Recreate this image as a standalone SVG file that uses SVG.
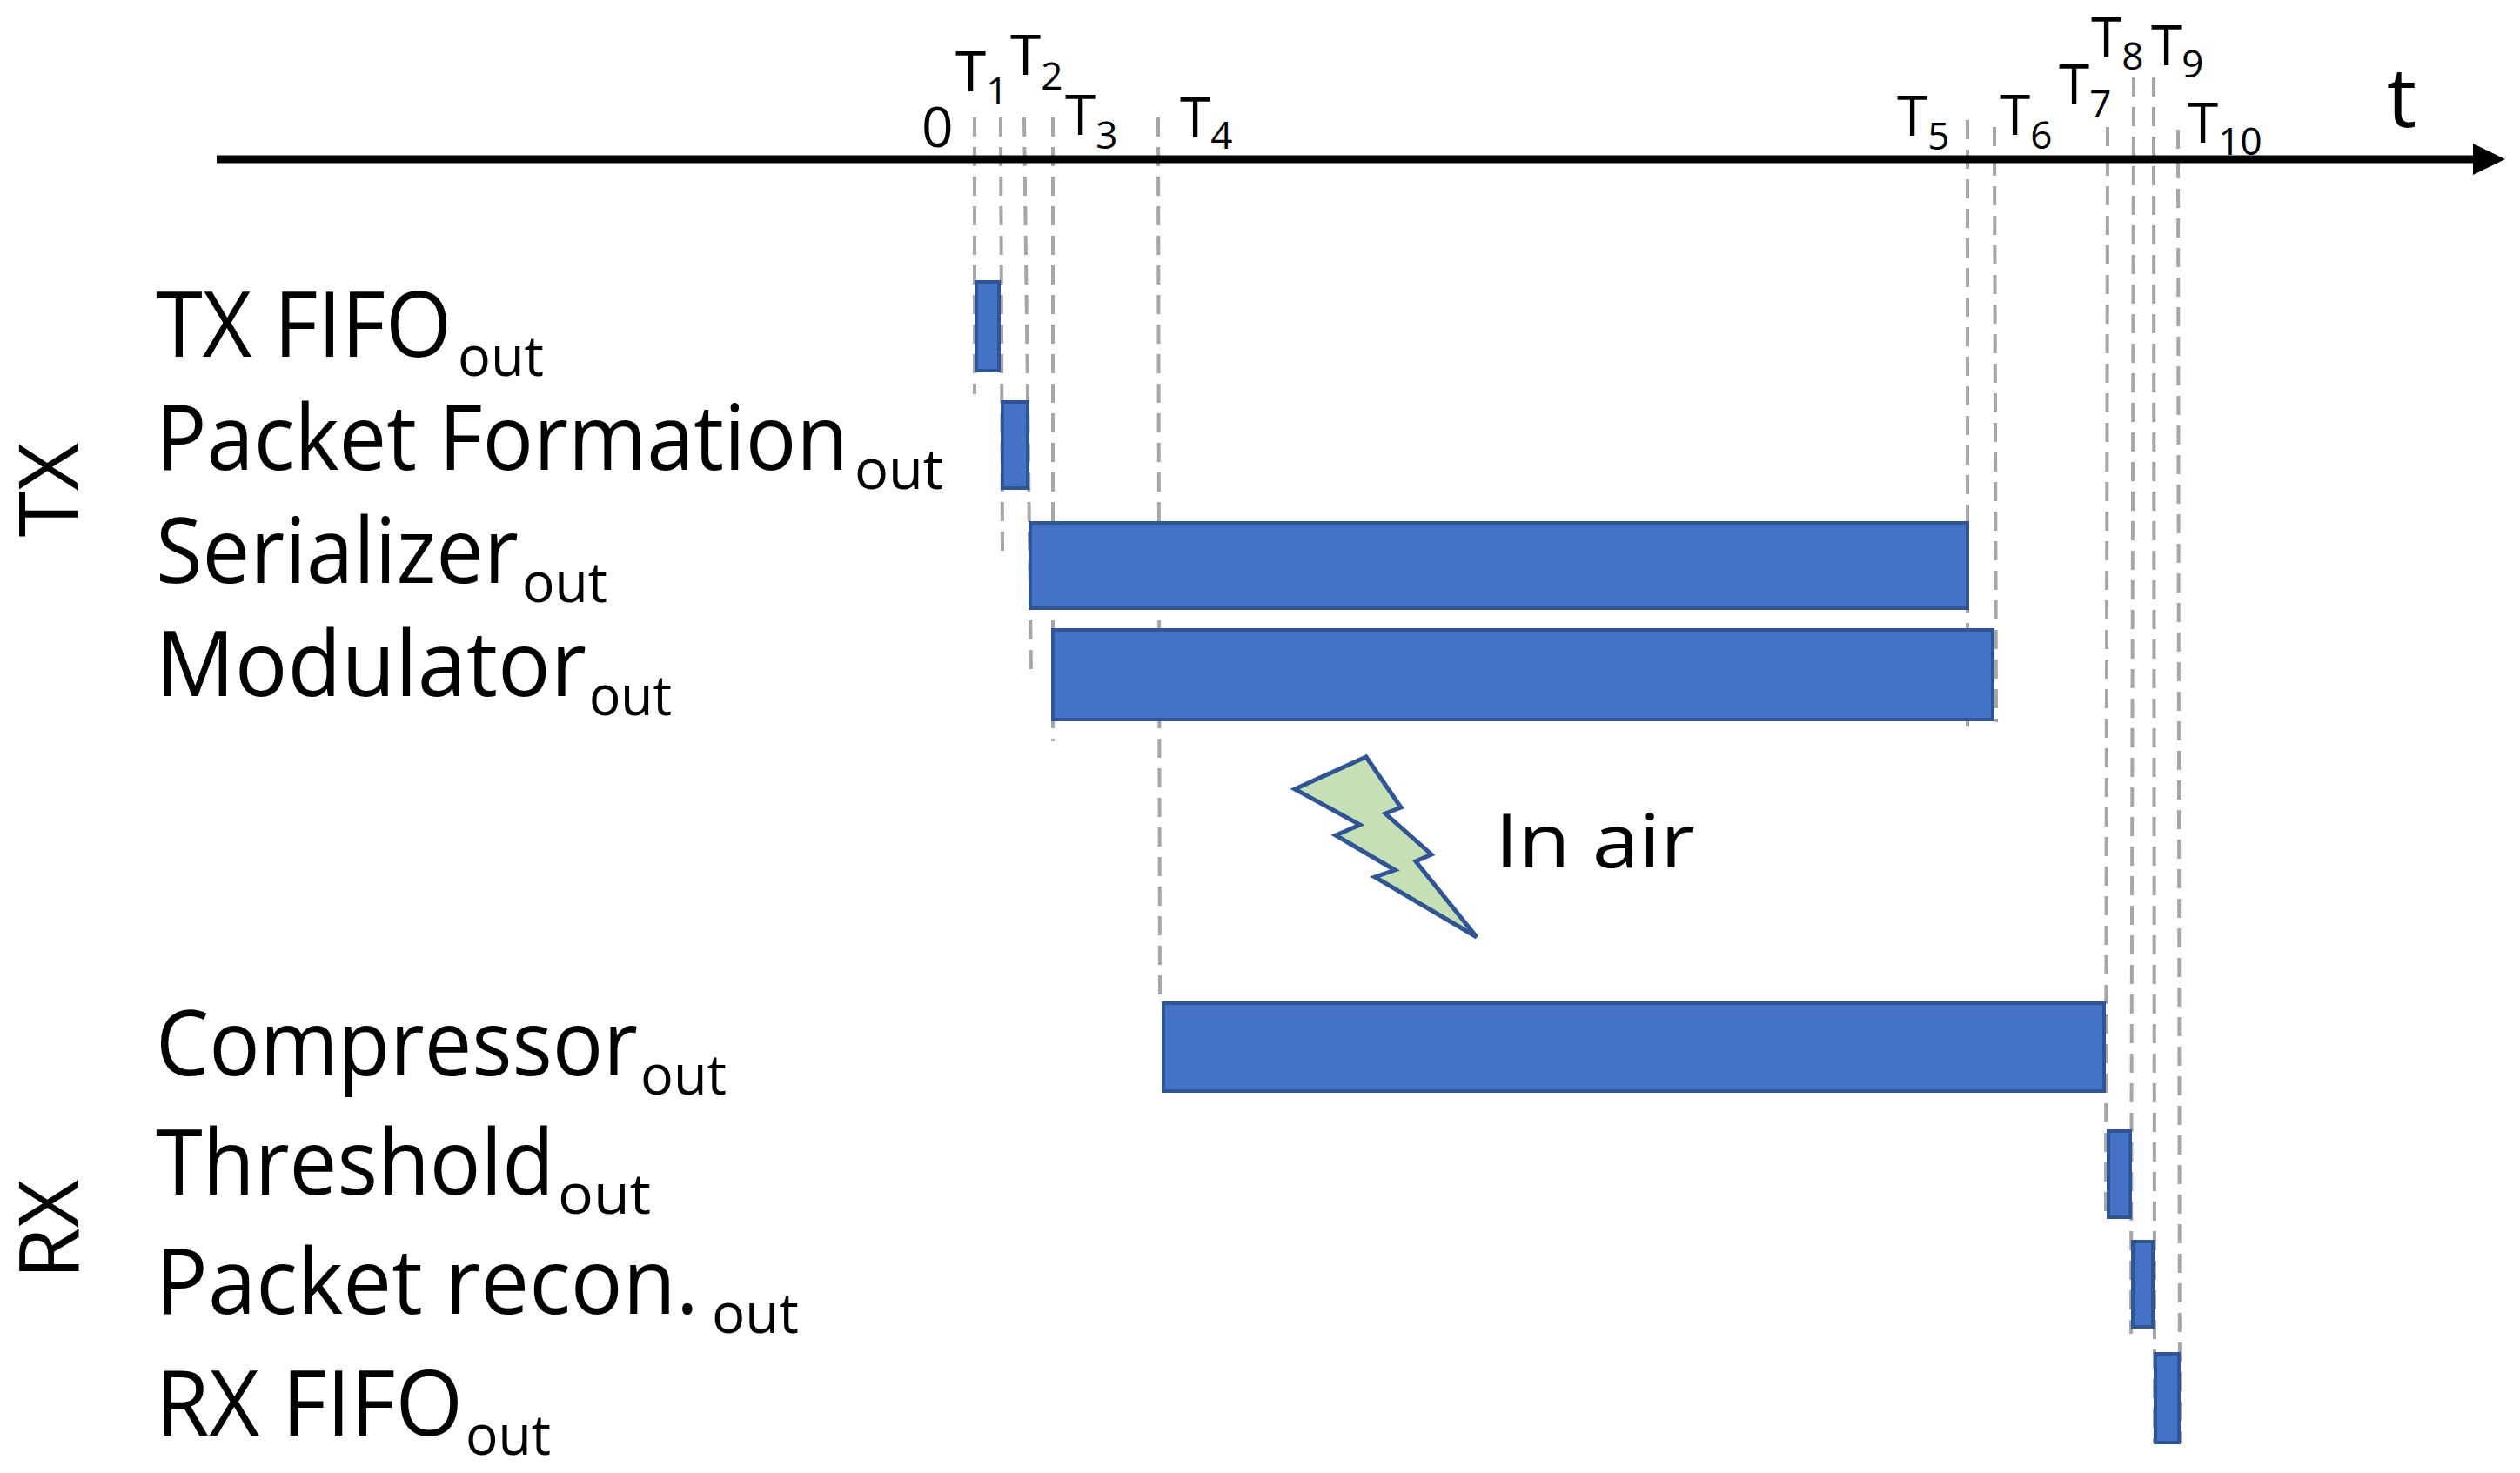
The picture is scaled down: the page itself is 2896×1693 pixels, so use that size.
<svg xmlns="http://www.w3.org/2000/svg" width="2896" height="1693" viewBox="0 0 2896 1693">
<style>
text{font-family:"Open Sans","Liberation Sans",sans-serif;fill:#000}
.lbl{font-size:104px}
.grp{font-size:96px}
.sub{font-size:64px}
.tm{font-size:64px}
.ts{font-size:44px}
.bar{fill:#4472C4;stroke:#2F5597;stroke-width:4}
.dash{stroke:#A6A6A6;stroke-width:4;stroke-dasharray:22,12;fill:none}
</style>
<rect width="2896" height="1693" fill="#fff"/>
<g id="connectors">
<line class="dash" x1="1120" y1="135" x2="1120" y2="453"/>
<line class="dash" x1="1150" y1="135" x2="1152" y2="634"/>
<line class="dash" x1="1177" y1="135" x2="1185" y2="775"/>
<line class="dash" x1="1210" y1="135" x2="1210" y2="852"/>
<line class="dash" x1="1331" y1="135" x2="1333" y2="1154"/>
<line class="dash" x1="2261" y1="138" x2="2261" y2="835"/>
<line class="dash" x1="2292" y1="146" x2="2294" y2="830"/>
<line class="dash" x1="2422" y1="146" x2="2420" y2="1399"/>
<line class="dash" x1="2452" y1="89" x2="2449" y2="1533"/>
<line class="dash" x1="2475" y1="89" x2="2476" y2="1658"/>
<line class="dash" x1="2503" y1="149" x2="2505" y2="1658"/>
<line x1="249" y1="183" x2="2844" y2="183" stroke="#000" stroke-width="9"/>
<path d="M2842,165 L2879,183 L2842,201z" fill="#000"/>
</g>
<g id="axis-labels">
<text class="tm" x="1059" y="169">0</text>
<text x="1098" y="105"><tspan class="tm">T</tspan><tspan class="ts" dy="15">1</tspan></text>
<text x="1161" y="86"><tspan class="tm">T</tspan><tspan class="ts" dy="17">2</tspan></text>
<text x="1224" y="155"><tspan class="tm">T</tspan><tspan class="ts" dy="16">3</tspan></text>
<text x="1356" y="158"><tspan class="tm">T</tspan><tspan class="ts" dy="13">4</tspan></text>
<text x="2180" y="156"><tspan class="tm">T</tspan><tspan class="ts" dy="16">5</tspan></text>
<text x="2298" y="155"><tspan class="tm">T</tspan><tspan class="ts" dy="16">6</tspan></text>
<text x="2366" y="120"><tspan class="tm">T</tspan><tspan class="ts" dy="15">7</tspan></text>
<text x="2403" y="66"><tspan class="tm">T</tspan><tspan class="ts" dy="14">8</tspan></text>
<text x="2472" y="75"><tspan class="tm">T</tspan><tspan class="ts" dy="14">9</tspan></text>
<text x="2514" y="164"><tspan class="tm">T</tspan><tspan class="ts" dy="14">10</tspan></text>
<text x="2743" y="146" style="font-size:96px">t</text>
</g>
<g id="tx-fifo"><rect class="bar" x="1122" y="324" width="26" height="102"/>
<text x="179" y="410"><tspan class="lbl" textLength="340" lengthAdjust="spacingAndGlyphs">TX FIFO</tspan><tspan class="sub" x="526" y="432" textLength="99" lengthAdjust="spacingAndGlyphs">out</tspan></text></g>
<g id="packet-formation"><rect class="bar" x="1152" y="462" width="29" height="99"/>
<text x="179" y="540"><tspan class="lbl" textLength="796" lengthAdjust="spacingAndGlyphs">Packet Formation</tspan><tspan class="sub" x="982" y="562" textLength="102" lengthAdjust="spacingAndGlyphs">out</tspan></text></g>
<g id="serializer"><rect class="bar" x="1184" y="601" width="1077" height="98"/>
<text x="179" y="670"><tspan class="lbl" textLength="417" lengthAdjust="spacingAndGlyphs">Serializer</tspan><tspan class="sub" x="600" y="692" textLength="98" lengthAdjust="spacingAndGlyphs">out</tspan></text></g>
<g id="modulator"><rect class="bar" x="1210" y="724" width="1080" height="103"/>
<text x="179" y="800"><tspan class="lbl" textLength="495" lengthAdjust="spacingAndGlyphs">Modulator</tspan><tspan class="sub" x="677" y="822" textLength="95" lengthAdjust="spacingAndGlyphs">out</tspan></text></g>
<g id="in-air">
<path d="M1488,907 L1570,870 L1610,928 L1592,935 L1645,982 L1627,990 L1697,1077 L1580,1008 L1603,1000 L1535,960 L1563,948 Z" fill="#C5E0B4" stroke="#2F5597" stroke-width="5"/>
<text x="1718" y="997" style="font-size:86px" textLength="230" lengthAdjust="spacingAndGlyphs">In air</text></g>
<g id="compressor"><rect class="bar" x="1337" y="1153" width="1081" height="101"/>
<text x="179" y="1236"><tspan class="lbl" textLength="554" lengthAdjust="spacingAndGlyphs">Compressor</tspan><tspan class="sub" x="736" y="1258" textLength="99" lengthAdjust="spacingAndGlyphs">out</tspan></text></g>
<g id="threshold"><rect class="bar" x="2423" y="1300" width="25" height="99"/>
<text x="179" y="1373"><tspan class="lbl" textLength="458" lengthAdjust="spacingAndGlyphs">Threshold</tspan><tspan class="sub" x="641" y="1395" textLength="107" lengthAdjust="spacingAndGlyphs">out</tspan></text></g>
<g id="packet-recon"><rect class="bar" x="2451" y="1427" width="23" height="98"/>
<text x="179" y="1510"><tspan class="lbl" textLength="624" lengthAdjust="spacingAndGlyphs">Packet recon.</tspan><tspan class="sub" x="818" y="1532" textLength="100" lengthAdjust="spacingAndGlyphs">out</tspan></text></g>
<g id="rx-fifo"><rect class="bar" x="2477" y="1556" width="27" height="102"/>
<text x="179" y="1650"><tspan class="lbl" textLength="353" lengthAdjust="spacingAndGlyphs">RX FIFO</tspan><tspan class="sub" x="535" y="1672" textLength="98" lengthAdjust="spacingAndGlyphs">out</tspan></text></g>
<g id="groups">
<text class="grp" transform="translate(90,563) rotate(-90)" text-anchor="middle">TX</text>
<text class="grp" transform="translate(90,1413) rotate(-90)" text-anchor="middle">RX</text>
</g>
</svg>
